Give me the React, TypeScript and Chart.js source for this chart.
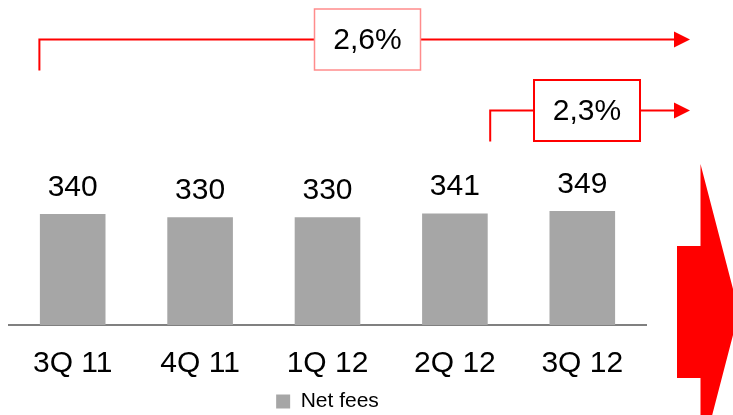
import { useEffect, useRef } from "react";
import { Chart, registerables } from "chart.js";

Chart.register(...registerables);

const categories = ["3Q 11", "4Q 11", "1Q 12", "2Q 12", "3Q 12"];
const netFees = [340, 330, 330, 341, 349];
const seriesLabel = "Net fees";
const growthLabels = ["2,6%", "2,3%"];
const growthFromIndex = [0, 3];

const FONT = '"Liberation Sans", Arial, sans-serif';
const BAR_COLOR = "#a6a6a6";
const RED = "#ff0000";

const valueLabelPlugin = {
  id: "valueLabels",
  afterDatasetsDraw(chart: any) {
    const ctx = chart.ctx;
    const meta = chart.getDatasetMeta(0);
    ctx.save();
    ctx.font = `30px ${FONT}`;
    ctx.fillStyle = "#000";
    ctx.textAlign = "center";
    ctx.textBaseline = "middle";
    meta.data.forEach((bar: any, i: number) => {
      ctx.fillText(String(netFees[i]), bar.x, bar.y - 26.5);
    });
    ctx.restore();
  },
};

const growthPlugin = {
  id: "growthArrows",
  afterDraw(chart: any) {
    const ctx = chart.ctx;
    const meta = chart.getDatasetMeta(0);
    const area = chart.chartArea;
    const tipX = area.right + 44;
    const styles = [
      { lineY: 39.5, boxCx: 367.5, border: "#ff8c8c", borderW: 1.5, startOffset: -0.5, side: -1 },
      { lineY: 110.5, boxCx: 587, border: RED, borderW: 2, startOffset: 2.5, side: 1 },
    ];
    ctx.save();
    growthLabels.forEach((label, k) => {
      const s = styles[k];
      const bar = meta.data[growthFromIndex[k]];
      const startX = bar.x + s.side * (bar.width / 2) + s.startOffset;
      const bw = 106;
      const bh = 61;
      const bx = s.boxCx - bw / 2;
      const by = s.lineY - bh / 2;
      ctx.strokeStyle = RED;
      ctx.lineWidth = 2;
      ctx.beginPath();
      ctx.moveTo(startX, s.lineY + 31);
      ctx.lineTo(startX, s.lineY);
      ctx.lineTo(bx, s.lineY);
      ctx.moveTo(bx + bw, s.lineY);
      ctx.lineTo(tipX - 14, s.lineY);
      ctx.stroke();
      ctx.fillStyle = RED;
      ctx.beginPath();
      ctx.moveTo(tipX, s.lineY);
      ctx.lineTo(tipX - 16, s.lineY - 8);
      ctx.lineTo(tipX - 16, s.lineY + 8);
      ctx.closePath();
      ctx.fill();
      ctx.fillStyle = "#fff";
      ctx.fillRect(bx, by, bw, bh);
      ctx.strokeStyle = s.border;
      ctx.lineWidth = s.borderW;
      ctx.strokeRect(bx, by, bw, bh);
      ctx.fillStyle = "#000";
      ctx.font = `30px ${FONT}`;
      ctx.textAlign = "center";
      ctx.textBaseline = "middle";
      ctx.fillText(label, s.boxCx, s.lineY + 1);
    });

    // big decorative arrow on the right
    const left = area.right + 31;
    const shaftX = area.right + 54.5;
    const midY = 312;
    ctx.fillStyle = RED;
    ctx.beginPath();
    ctx.moveTo(left, midY - 66);
    ctx.lineTo(shaftX, midY - 66);
    ctx.lineTo(shaftX, midY - 148);
    ctx.lineTo(shaftX + 38.5, midY);
    ctx.lineTo(shaftX, midY + 148);
    ctx.lineTo(shaftX, midY + 66);
    ctx.lineTo(left, midY + 66);
    ctx.closePath();
    ctx.fill();
    ctx.restore();
  },
};

export default function App() {
  const canvasRef = useRef<HTMLCanvasElement | null>(null);

  useEffect(() => {
    if (!canvasRef.current) return;
    const chart = new Chart(canvasRef.current, {
      type: "bar",
      data: {
        labels: categories,
        datasets: [
          {
            label: seriesLabel,
            data: netFees,
            backgroundColor: BAR_COLOR,
            borderWidth: 0,
            categoryPercentage: 1,
            barPercentage: 0.515,
          },
        ],
      },
      options: {
        animation: false,
        responsive: false,
        layout: { padding: { left: 9, right: 87, top: 0, bottom: 0 } },
        plugins: {
          legend: {
            position: "bottom",
            maxHeight: 36,
            labels: {
              font: { family: FONT, size: 21, lineHeight: 1 },
              color: "#000",
              boxWidth: 14,
              boxHeight: 14,
              padding: 12,
            },
          },
          tooltip: { enabled: false },
        },
        scales: {
          x: {
            grid: { display: false, drawTicks: false },
            border: { display: true, color: "#808080", width: 2 },
            ticks: {
              font: { family: FONT, size: 30, lineHeight: 1 },
              color: "#000",
              padding: 24,
            },
            afterFit(scale: any) {
              scale.height = 54;
            },
          },
          y: { display: false, min: 0, max: 995 },
        },
      } as any,
      plugins: [valueLabelPlugin, growthPlugin],
    });
    return () => chart.destroy();
  }, []);

  return (
    <div style={{ position: "absolute", left: 0, top: 0, width: 733, height: 415, background: "#fff" }}>
      <canvas ref={canvasRef} width={733} height={415} style={{ width: 733, height: 415, display: "block" }} />
    </div>
  );
}
